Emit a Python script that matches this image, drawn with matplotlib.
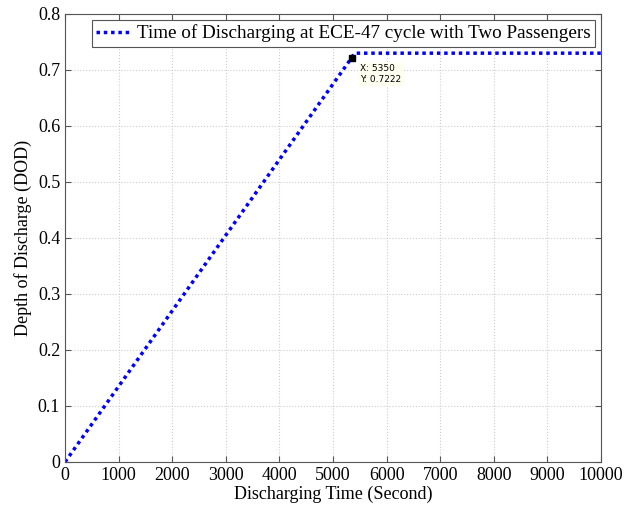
import matplotlib
matplotlib.use('Agg')
import matplotlib.pyplot as plt

# ---- Data ----
time_s = [0, 5350, 5400, 10000]
dod = [0, 0.7222, 0.73, 0.73]
tip_x, tip_y = 5350, 0.7222
xticks = list(range(0, 10001, 1000))
yticks = [0, 0.1, 0.2, 0.3, 0.4, 0.5, 0.6, 0.7, 0.8]

plt.rcParams['font.family'] = ['Liberation Serif', 'DejaVu Serif']

fig = plt.figure(figsize=(6.4, 5.12), dpi=100)
ax = fig.add_axes([0.1016, 0.0977, 0.8375, 0.875])

ax.plot(time_s, dod, color='blue', linestyle=(0, (1, 1.1)), linewidth=2.5,
        label='Time of Discharging at ECE-47 cycle with Two Passengers')

# ---- Data tip ----
ax.plot([tip_x], [tip_y], marker='s', color='black', markersize=5, linestyle='none')
ax.annotate('X: 5350\nY: 0.7222', xy=(tip_x, tip_y), xytext=(6, -5),
            textcoords='offset points', ha='left', va='top', fontsize=6.5,
            family='DejaVu Sans',
            bbox=dict(boxstyle='square,pad=0.2', fc='#fffff0', ec='none'))

ax.set_xlim(0, 10000)
ax.set_ylim(0, 0.8)
ax.set_xticks(xticks)
ax.set_yticks(yticks)
ax.set_yticklabels(['0', '0.1', '0.2', '0.3', '0.4', '0.5', '0.6', '0.7', '0.8'])
ax.tick_params(labelsize=13, direction='in', length=4, color='#555555', top=True, right=True)
ax.grid(True, linestyle=':', color='#cccccc', linewidth=0.8)
for s in ax.spines.values():
    s.set_color('#555555')

ax.set_xlabel('Discharging Time (Second)', fontsize=13, labelpad=1)
ax.set_ylabel('Depth of Discharge (DOD)', fontsize=13, labelpad=4)

leg = ax.legend(loc='upper right', fontsize=13.8, fancybox=False, framealpha=1,
                edgecolor='#555555', handlelength=1.7, handletextpad=0.4,
                borderaxespad=0.3, borderpad=0.25)
leg.get_frame().set_linewidth(0.8)

fig.savefig('out.png', dpi=100)
